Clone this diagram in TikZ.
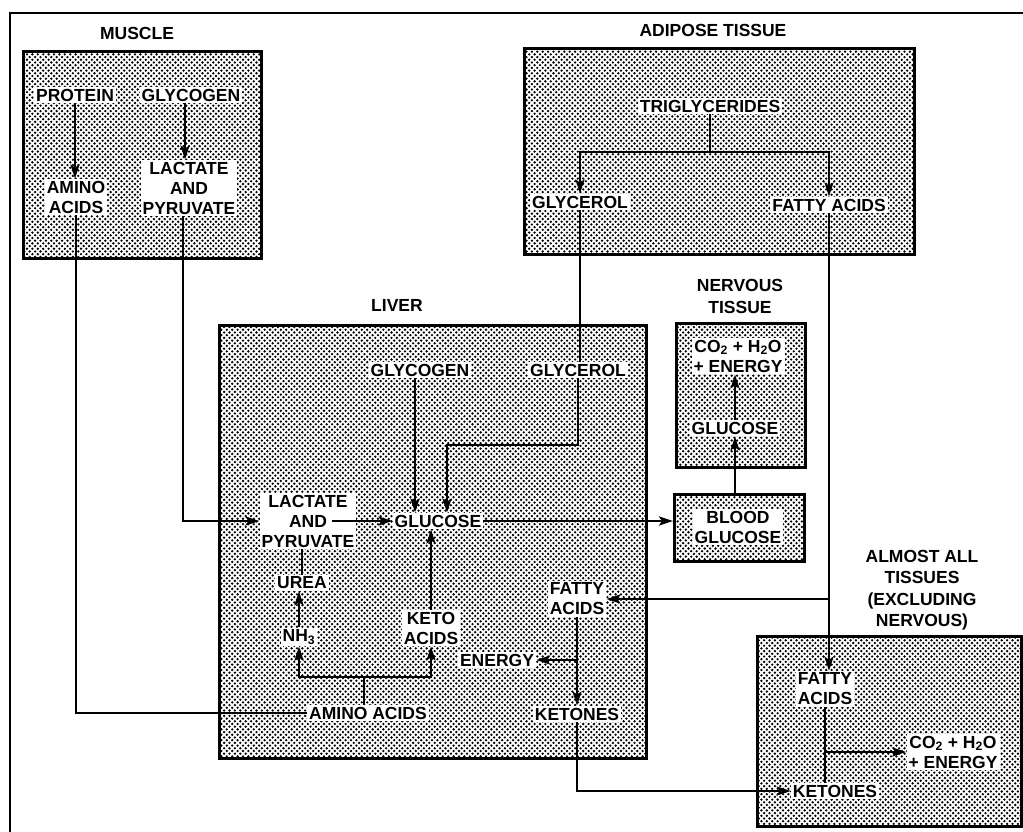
\documentclass[tikz,border=0pt]{standalone}
\usepackage{fontspec}
\setmainfont{Liberation Sans}
\usetikzlibrary{arrows.meta,patterns}
\pgfdeclarepatternformonly{halftone}{\pgfqpoint{-1.5pt}{-1.5pt}}{\pgfqpoint{7pt}{7pt}}{\pgfqpoint{5.4pt}{5.4pt}}{%
 \pgfpathcircle{\pgfqpoint{0pt}{0pt}}{1.3pt}%
 \pgfpathcircle{\pgfqpoint{2.7pt}{2.7pt}}{1.3pt}%
 \pgfusepath{fill}}
\newcommand\dgmfont{\fontsize{17.5}{20}\selectfont\bfseries}
\tikzset{
 tissue/.style={draw, line width=3.2pt, pattern=halftone, anchor=north west, inner sep=0pt},
 lbl/.style={font=\dgmfont, align=center, inner sep=2pt},
 txt/.style={lbl, fill=white},
 con/.style={line width=2.6pt},
 arr/.style={con, -{Stealth[length=14pt,width=9pt,inset=3pt]}},
}
\begin{document}
\begin{tikzpicture}[x=1pt,y=-1pt]
\useasboundingbox (0,0) rectangle (1023,832);
\draw[line width=2.6pt] (10,832) -- (10,13) -- (1023,13);

% ---------- boxes
\node[tissue, minimum width=238pt, minimum height=207pt] (muscle) at (22,50) {};
\node[tissue, minimum width=390pt, minimum height=206pt] (adipose) at (523,47) {};
\node[tissue, minimum width=427pt, minimum height=433pt] (liver) at (218,324) {};
\node[tissue, minimum width=129pt, minimum height=144pt] (nbox) at (675,322) {};
\node[tissue, minimum width=130pt, minimum height=67pt] (bbox) at (673,493) {};
\node[tissue, minimum width=264pt, minimum height=190pt] (tbox) at (756,635) {};

% ---------- labels
\node[lbl] (mlabel) at (137,33) {MUSCLE};
\node[lbl] (alabel) at (713,30) {ADIPOSE TISSUE};
\node[lbl] (llabel) at (397,305) {LIVER};
\node[lbl, font=\fontsize{17.5}{22}\selectfont\bfseries] (nlabel) at (740,296) {NERVOUS\\TISSUE};
\node[lbl, font=\fontsize{17.5}{21.5}\selectfont\bfseries] (tlabel) at (922,590) {ALMOST ALL\\TISSUES\\(EXCLUDING\\NERVOUS)};

% ---------- muscle
\node[txt] (mprot) at (75,95) {PROTEIN};
\node[txt] (mglyc) at (191,95) {GLYCOGEN};
\node[txt] (mamino) at (76,197) {AMINO\\ACIDS};
\node[txt] (mlact) at (189,188) {LACTATE\\AND\\PYRUVATE};

% ---------- adipose
\node[txt] (atri) at (710,106) {TRIGLYCERIDES};
\node[txt] (agly) at (580,202) {GLYCEROL};
\node[txt] (afat) at (829,205) {FATTY ACIDS};
\coordinate (afork) at (710,152);

% ---------- liver
\node[txt] (lglycogen) at (420,370) {GLYCOGEN};
\node[txt] (lglyc) at (578,370) {GLYCEROL};
\node[txt] (llact) at (308,521) {LACTATE\\AND\\PYRUVATE};
\node[txt] (lgluc) at (438,521) {GLUCOSE};
\node[txt] (lurea) at (302,583) {UREA};
\node[txt] (lnh) at (299,637) {NH\textsubscript{3}};
\node[txt] (lketo) at (431,628) {KETO\\ACIDS};
\node[txt] (lfat) at (577,599) {FATTY\\ACIDS};
\node[txt] (lenergy) at (497,660) {ENERGY};
\node[txt] (lamino) at (368,713) {AMINO ACIDS};
\node[txt] (lket) at (577,714) {KETONES};
\coordinate (lgc) at (447,445);
\coordinate (landE) at (332,521);
\coordinate (lafork) at (364,677);

% ---------- nervous tissue and blood
\node[txt] (nco2) at (738,356) {CO\textsubscript{2} + H\textsubscript{2}O\\+ ENERGY};
\node[txt] (ngluc) at (735,428) {GLUCOSE};
\node[txt] (bgluc) at (738,527) {BLOOD\\GLUCOSE};

% ---------- almost all tissues
\node[txt] (tfat) at (825,689) {FATTY\\ACIDS};
\node[txt] (tco2) at (953,752) {CO\textsubscript{2} + H\textsubscript{2}O\\+ ENERGY};
\node[txt] (tket) at (835,791) {KETONES};

% ---------- connectors
\draw[arr] (mprot.south) -- (mprot.south |- mamino.north);
\draw[arr] ([xshift=-6pt]mglyc.south) -- ([xshift=-6pt]mglyc.south |- mlact.north);
\draw[con] (mamino.south) |- (lamino.west);
\draw[arr] ([xshift=-6pt]mlact.south) |- (llact.west);

\draw[con] (atri.south) -- (afork);
\draw[arr] (afork) -| (agly.north);
\draw[arr] (afork) -| (afat.north);
\draw[con] (agly.south) -- (agly.south |- lglyc.north);
\draw[arr] (afat.south) -- (afat.south |- tfat.north);
\draw[arr] (afat.south |- lfat.east) -- (lfat.east);

\draw[arr] ([xshift=-5pt]lglycogen.south) -- ([xshift=-5pt]lglycogen.south |- lgluc.north);
\draw[arr] (lglyc.south) |- (lgc) -- (lgc |- lgluc.north);
\draw[arr] (landE) -- (lgluc.west);
\draw[arr] (lgluc.east) -- (lgluc.east -| bbox.west);
\draw[arr] (lketo.north) -- (lketo.north |- lgluc.south);
\draw[con] (lurea.north) -- (lurea.north |- llact.south);
\draw[arr] (lnh.north) -- (lnh.north |- lurea.south);
\draw[con] (lamino.north -| lafork) -- (lafork);
\draw[arr] (lafork) -| (lnh.south);
\draw[arr] (lafork) -| (lketo.south);
\draw[arr] (lfat.south) -- (lfat.south |- lket.north);
\draw[arr] (lenergy.east -| lfat.south) -- (lenergy.east);
\draw[arr] (lket.south) |- (tket.west);

\draw[arr] (ngluc.north) -- (ngluc.north |- nco2.south);
\draw[arr] (bbox.north -| ngluc.south) -- (ngluc.south);

\draw[con] (tfat.south) -- (tfat.south |- tket.north);
\draw[arr] (tfat.south |- tco2.west) -- (tco2.west);
\end{tikzpicture}
\end{document}
